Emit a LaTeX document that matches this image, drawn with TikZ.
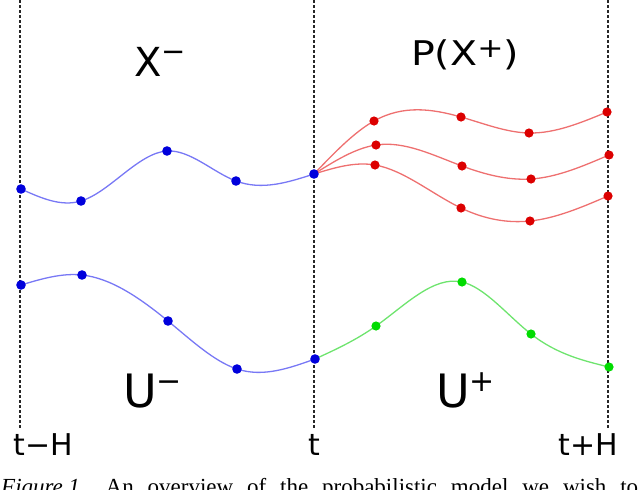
\documentclass[tikz,border=0pt]{standalone}
\usepackage{graphicx}
\usepackage{fontspec}
\setmainfont{DejaVu Sans}
\newfontfamily\capfont{Liberation Serif}
\definecolor{lineblue}{RGB}{120,120,245}
\definecolor{dotblue}{RGB}{0,0,220}
\definecolor{linered}{RGB}{238,112,112}
\definecolor{dotred}{RGB}{220,0,0}
\definecolor{linegreen}{RGB}{110,228,110}
\definecolor{dotgreen}{RGB}{0,220,0}
\newcommand{\supsym}[3]{\raisebox{#2pt}{\fontsize{#1}{#1}\selectfont #3}}
\begin{document}
\begin{tikzpicture}[x=1pt,y=-1pt,
  guide/.style={draw=black!85, line width=1.3pt, dash pattern=on 3pt off 2pt},
  bline/.style={draw=lineblue, line width=1.3pt},
  rline/.style={draw=linered, line width=1.3pt},
  gline/.style={draw=linegreen, line width=1.3pt},
  lab/.style={inner sep=0pt, anchor=base west},
  tlab/.style={inner sep=0pt, anchor=base, font=\fontsize{30}{30}\selectfont}]
\useasboundingbox (0,0) rectangle (640,490);

% guide end points
\coordinate (g1t) at (20,0);   \coordinate (g1b) at (20,428);
\coordinate (g2t) at (314,0);  \coordinate (g2b) at (314,428);
\coordinate (g3t) at (608,0);  \coordinate (g3b) at (608,428);
\draw[guide] (g1t) -- (g1b);
\draw[guide] (g2t) -- (g2b);
\draw[guide] (g3t) -- (g3b);

% X- points
\coordinate (x1) at (21,189);
\coordinate (x2) at (81,201);
\coordinate (x3) at (167,151);
\coordinate (x4) at (236,181);
\coordinate (x5) at (314,174);
% red futures
\coordinate (a1) at (374,121);
\coordinate (a2) at (461,117);
\coordinate (a3) at (529,133);
\coordinate (a4) at (607,112);
\coordinate (b1) at (376,145);
\coordinate (b2) at (462,166);
\coordinate (b3) at (531,179);
\coordinate (b4) at (609,155);
\coordinate (c1) at (375,165);
\coordinate (c2) at (461,208);
\coordinate (c3) at (530,221);
\coordinate (c4) at (608,196);
% U- points
\coordinate (u1) at (21,285);
\coordinate (u2) at (82,275);
\coordinate (u3) at (168,321);
\coordinate (u4) at (237,369);
\coordinate (u5) at (315,359);
% U+ points
\coordinate (v1) at (376,326);
\coordinate (v2) at (462,282);
\coordinate (v3) at (531,334);
\coordinate (v4) at (609,367);

% natural cubic splines through the points
\draw[bline] (x1) .. controls (41,198.01) and (61,207.03) .. (x2)
  .. controls (109.67,192.36) and (138.33,152.82) .. (x3)
  .. controls (190,149.54) and (213,172.37) .. (x4)
  .. controls (262,190.76) and (288,182.38) .. (x5);
\draw[rline] (x5) .. controls (334,153.12) and (354,132.23) .. (a1)
  .. controls (403,104.72) and (432,108.73) .. (a2)
  .. controls (483.67,123.46) and (506.33,132.53) .. (a3)
  .. controls (555,133.54) and (581,122.77) .. (a4);
\draw[rline] (x5) .. controls (334.67,161.05) and (355.33,148.10) .. (b1)
  .. controls (404.67,140.70) and (433.33,155.36) .. (b2)
  .. controls (485,174.53) and (508,180.48) .. (b3)
  .. controls (557,177.33) and (583,166.16) .. (b4);
\draw[rline] (x5) .. controls (334.33,167.75) and (354.67,161.51) .. (c1)
  .. controls (403.67,169.93) and (432.33,194.22) .. (c2)
  .. controls (484,219.06) and (507,223.36) .. (c3)
  .. controls (556,218.34) and (582,207.17) .. (c4);
\draw[bline] (u1) .. controls (41.33,278.92) and (61.67,272.84) .. (u2)
  .. controls (110.67,278.04) and (139.33,297.46) .. (u3)
  .. controls (191,339.89) and (214,361.43) .. (u4)
  .. controls (263,377.56) and (289,368.28) .. (u5);
\draw[gline] (u5) .. controls (335.33,349.68) and (355.67,340.36) .. (v1)
  .. controls (404.67,305.76) and (433.33,275.51) .. (v2)
  .. controls (485,287.20) and (508,316.05) .. (v3)
  .. controls (557,354.29) and (583,360.64) .. (v4);

\foreach \p in {x1,x2,x3,x4,x5,u1,u2,u3,u4,u5}
  \fill[dotblue] (\p) circle (4.8);
\foreach \p in {a1,a2,a3,a4,b1,b2,b3,b4,c1,c2,c3,c4}
  \fill[dotred] (\p) circle (4.6);
\foreach \p in {v1,v2,v3,v4}
  \fill[dotgreen] (\p) circle (4.6);

% labels
\node[lab, font=\fontsize{40}{40}\selectfont] (lxm) at (134,76) {X\supsym{29}{15}{−}};
\node[lab, font=\fontsize{34}{34}\selectfont] (lpx) at (411,65)
  {\scalebox{1.16}[1]{P(X\supsym{27}{8}{+})}};
\node[lab, font=\fontsize{46}{46}\selectfont] (lum) at (123,407) {U\supsym{30}{15.5}{−}};
\node[lab, font=\fontsize{46}{46}\selectfont] (lup) at (436,407) {U\supsym{30}{15.5}{+}};

\node[tlab] (t1) at (43,455) {t−H};
\node[tlab] (t2) at (314,455) {t};
\node[tlab] (t3) at (588,455) {t+H};

\node[inner sep=0pt, anchor=base west] (cap) at (1,494)
  {\capfont\fontsize{23}{23}\selectfont\makebox[637pt][s]{\textit{Figure\kern5.5pt 1.}\hspace{20pt}An overview of the probabilistic model we wish to}};
\end{tikzpicture}
\end{document}
